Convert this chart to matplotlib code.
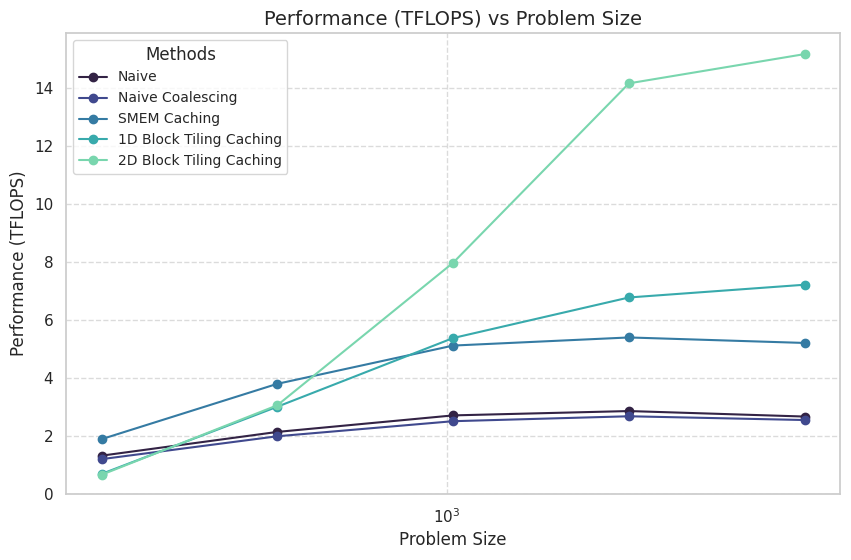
import numpy as np
import matplotlib
matplotlib.use('Agg')
import matplotlib.pyplot as plt
import seaborn as sns

sizes = [256, 512, 1024, 2048, 4096]
methods = ['Naive', 'Naive Coalescing', 'SMEM Caching',
           '1D Block Tiling Caching', '2D Block Tiling Caching']
naive = [1.32, 2.14, 2.71, 2.86, 2.67]
naive_coalescing = [1.20, 1.99, 2.51, 2.68, 2.55]
smem_caching = [1.89, 3.80, 5.12, 5.40, 5.21]
block_1d = [0.69, 3.01, 5.38, 6.78, 7.22]
block_2d = [0.66, 3.06, 7.98, 14.17, 15.18]

sns.set_theme(style='whitegrid')
palette = sns.color_palette('mako', len(methods))

fig, ax = plt.subplots(figsize=(8.51, 5.60), dpi=100)
fig.subplots_adjust(left=0.078, right=0.987, top=0.941, bottom=0.118)

for name, vals, c in zip(methods, [naive, naive_coalescing, smem_caching, block_1d, block_2d], palette):
    ax.plot(sizes, vals, marker='o', color=c, label=name)

ax.set_xscale('log')
ax.set_ylim(bottom=0)
ax.set_title('Performance (TFLOPS) vs Problem Size', fontsize=14)
ax.set_xlabel('Problem Size', fontsize=12)
ax.set_ylabel('Performance (TFLOPS)', fontsize=12)
ax.grid(True, linestyle='--', alpha=0.7)
ax.legend(title='Methods', loc='upper left', fontsize=10, title_fontsize=12)

fig.savefig('out.png')
